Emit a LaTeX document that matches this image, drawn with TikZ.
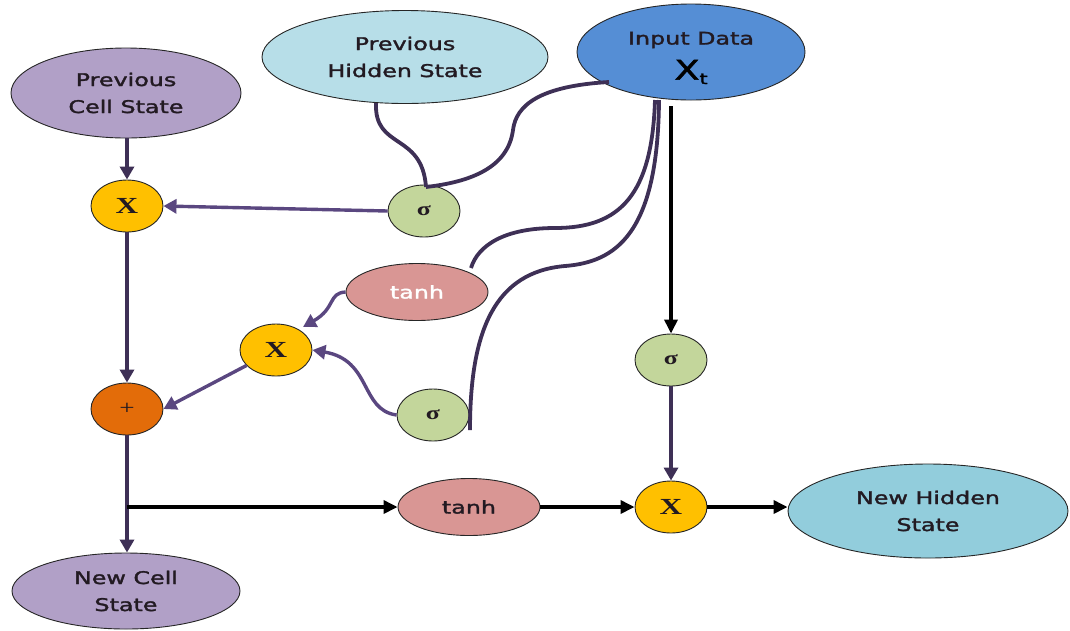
\documentclass[tikz,border=0pt]{standalone}
\usepackage{fontspec}
\usepackage{graphicx}
\usetikzlibrary{shapes.geometric,arrows.meta}
\newfontfamily\labfont[FakeBold=1.6]{DejaVu Sans}
\newfontfamily\serfont{Liberation Serif}
\newcommand{\hs}[1]{\scalebox{1.36}[1]{#1}}
\definecolor{cpurple}{HTML}{B1A0C7}
\definecolor{cphs}{HTML}{B7DEE8}
\definecolor{cinp}{HTML}{558ED5}
\definecolor{cyel}{HTML}{FFC000}
\definecolor{corange}{HTML}{E36C09}
\definecolor{cgreen}{HTML}{C3D69B}
\definecolor{cpink}{HTML}{D99694}
\definecolor{cnhs}{HTML}{92CDDC}
\definecolor{cline}{HTML}{3E3056}
\definecolor{carrow}{HTML}{5A4780}
\definecolor{ctext}{HTML}{221A22}
\tikzset{
  base/.style={ellipse, draw=black!85, line width=0.9pt, inner sep=0pt, text=ctext},
  bigstate/.style={base, align=center, font=\labfont\fontsize{17.5}{27}\selectfont},
  opnode/.style={base, minimum width=72, minimum height=52},
  mult/.style={opnode, fill=cyel, font=\serfont\bfseries\fontsize{23}{23}\selectfont},
  sig/.style={opnode, fill=cgreen, font=\serfont\bfseries\fontsize{19}{19}\selectfont},
  tanhnode/.style={base, fill=cpink, minimum width=142, minimum height=57, font=\labfont\fontsize{17.5}{20}\selectfont},
  curve/.style={draw=cline, line width=3.8pt},
  parrow/.style={draw=carrow, line width=3.4pt, -{Triangle[length=13pt,width=14pt]}},
  varrow/.style={draw=cline, line width=4.2pt, -{Triangle[length=13pt,width=14pt]}},
  barrow/.style={draw=black, line width=3.4pt, -{Triangle[length=14pt,width=13pt]}},
}
\begin{document}
\begin{tikzpicture}[x=1pt,y=-1pt]
\useasboundingbox (0,0) rectangle (1070,630);
% nodes
\node[bigstate, fill=cpurple, minimum width=230, minimum height=90] (pcs) at (126,93) {\hs{Previous}\\\hs{Cell State}};
\node[bigstate, fill=cphs, minimum width=286, minimum height=93] (phs) at (405,57) {\hs{Previous}\\\hs{Hidden State}};
\node[base, fill=cinp, minimum width=228, minimum height=96] (inp) at (691,52) {};
\node[font=\labfont\fontsize{17.5}{20}\selectfont, text=ctext] (inptxt) at (691,40) {\hs{Input Data}};
\node[font=\labfont\fontsize{27}{27}\selectfont, text=black] (inpx) at (691,72) {\hs{X\raisebox{-0.3ex}{\fontsize{15}{15}\selectfont t}}};
\node[mult] (x1) at (127,206) {\hs{X}};
\node[sig] (s1) at (424,211) {\hs{σ}};
\node[tanhnode, text=white] (t1) at (417,292) {\hs{tanh}};
\node[mult] (x2) at (276,350) {\hs{X}};
\node[opnode, fill=corange, font=\serfont\fontsize{20}{20}\selectfont] (plus) at (127,409) {\hs{+}};
\node[sig] (s2) at (433,415) {\hs{σ}};
\node[sig] (s3) at (671,360) {\hs{σ}};
\node[tanhnode] (t2) at (469,507) {\hs{tanh}};
\node[mult] (x3) at (671,507) {\hs{X}};
\node[bigstate, fill=cnhs, minimum width=280, minimum height=94] (nhs) at (928,511) {\hs{New Hidden}\\\hs{State}};
\node[bigstate, fill=cpurple, minimum width=228, minimum height=76] (ncs) at (126,591) {\hs{New Cell}\\\hs{State}};
% coordinates
\coordinate (br) at (127,507);
\coordinate (inpS) at (671,106);
\coordinate (inpA) at (609,82);
\coordinate (inpB) at (655,100);
\coordinate (inpC) at (659,100);
\coordinate (phsS) at (376,103);
\coordinate (s1top) at (426,187);
\coordinate (t1top) at (471,268);
\coordinate (s2r) at (470,430);
% vertical cell path
\draw[varrow] (pcs.south -| x1) -- (x1.north);
\draw[varrow] (x1.south) -- (plus.north);
\draw[varrow] (plus.south) -- (ncs.north -| plus);
% output path
\draw[barrow] (br) -- (t2.west);
\draw[barrow] (t2.east) -- (x3.west);
\draw[barrow] (x3.east) -- (x3.east -| nhs.west);
\draw[barrow] (inpS) -- (s3.north);
\draw[varrow] (s3.south) -- (x3.north);
% forget gate
\draw[parrow] (s1.west) -- (x1.east);
\draw[curve] (phsS) .. controls (374,150) and (422,132) .. (s1top);
\draw[curve] (inpA) .. controls (540,86) and (516,105) .. (513,130) .. controls (508,168) and (470,182) .. (s1top);
% input gate
\draw[curve] (inpB) .. controls (652,195) and (620,228) .. (555,228) .. controls (505,228) and (478,245) .. (t1top);
\draw[curve] (inpC) .. controls (658,235) and (615,262) .. (565,266) .. controls (495,272) and (470,330) .. (s2r);
\draw[parrow] (t1.west) .. controls (328,293) and (336,308) .. (303,327);
\draw[parrow] (s2.west) .. controls (360,410) and (372,360) .. (x2.east);
\draw[parrow] (x2) -- (plus.east);
\end{tikzpicture}
\end{document}
